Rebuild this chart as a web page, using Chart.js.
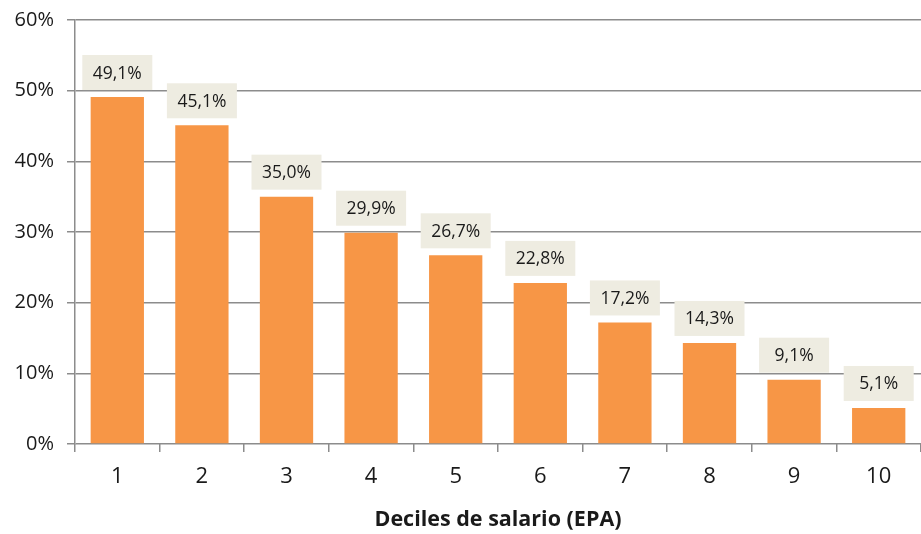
<!DOCTYPE html>
<html><head><meta charset="utf-8">
<script src="https://cdn.jsdelivr.net/npm/chart.js@4"></script>
<style>html,body{margin:0;padding:0;background:#fff}#c{display:block}</style>
</head><body>
<canvas id="c" width="921" height="534"></canvas>
<script>
const categories = ['1','2','3','4','5','6','7','8','9','10'];
const values = [49.1, 45.1, 35.0, 29.9, 26.7, 22.8, 17.2, 14.3, 9.1, 5.1];
const yTicks = [0, 10, 20, 30, 40, 50, 60];
const axisTitle = 'Deciles de salario (EPA)';

const FONT = "'Open Sans', 'Liberation Sans', sans-serif";
const fmt = v => v.toFixed(1).replace('.', ',') + '%';

const labelPlugin = {
  id: 'boxLabels',
  afterDatasetsDraw(chart) {
    const ctx = chart.ctx;
    const meta = chart.getDatasetMeta(0);
    ctx.save();
    ctx.font = "17.5px " + FONT;
    ctx.textAlign = 'center';
    ctx.textBaseline = 'middle';
    meta.data.forEach((bar, i) => {
      const txt = fmt(values[i]);
      const w = 70, h = 35;
      const cx = bar.x, bottom = bar.y - 7;
      ctx.fillStyle = '#EEECE1';
      ctx.fillRect(cx - w / 2, bottom - h, w, h);
      ctx.fillStyle = '#1a1a1a';
      ctx.fillText(txt, cx, bottom - h / 2 + 1);
    });
    ctx.restore();
  }
};

new Chart(document.getElementById('c'), {
  type: 'bar',
  data: {
    labels: categories,
    datasets: [{
      data: values,
      backgroundColor: '#F79646',
      borderWidth: 0,
      barPercentage: 0.63,
      categoryPercentage: 1.0
    }]
  },
  options: {
    responsive: false,
    animation: false,
    layout: { padding: { top: 1, right: 0, left: 0, bottom: 0 } },
    plugins: { legend: { display: false }, tooltip: { enabled: false } },
    scales: {
      x: {
        offset: true,
        grid: { display: true, drawOnChartArea: false, drawTicks: true, tickLength: 8, color: '#8c8c8c', lineWidth: 1.5, offset: true },
        border: { display: false },
        ticks: { color: '#1a1a1a', font: { family: FONT, size: 22 }, padding: 12 },
        title: { display: true, text: axisTitle, color: '#1a1a1a', font: { family: FONT, size: 21.5, weight: 'bold' }, padding: { top: 4, bottom: 1 } },
        afterFit(s) { s.height = 90; }
      },
      y: {
        min: 0, max: 60,
        afterBuildTicks(s) { s.ticks = yTicks.map(v => ({ value: v })); },
        grid: { color: '#8c8c8c', lineWidth: 1.5, tickLength: 8 },
        border: { display: true, color: '#8c8c8c', width: 1.5 },
        ticks: { color: '#1a1a1a', font: { family: FONT, size: 20, lineHeight: 0.7 }, padding: 13, callback: v => v + '%' },
        afterFit(s) { s.width = 75; }
      }
    }
  },
  plugins: [labelPlugin]
});
</script>
</body></html>
